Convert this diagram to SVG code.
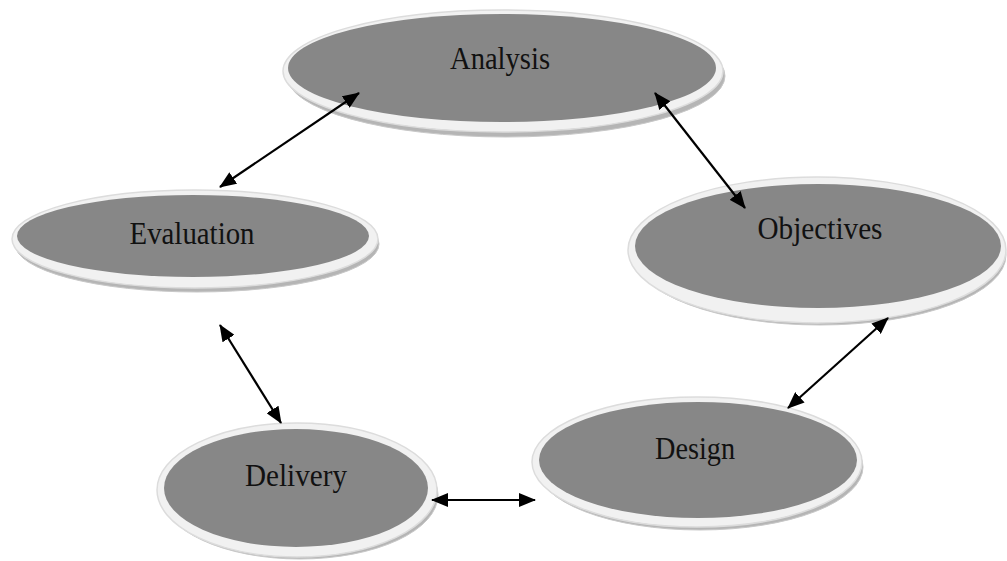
<svg xmlns="http://www.w3.org/2000/svg" width="1007" height="561" viewBox="0 0 1007 561">
<style>
.shadow{fill:#b5b5b5;stroke:#c8c8c8;stroke-width:1}
.ring{fill:#f1f1f1;stroke:#dcdcdc;stroke-width:1.5}
.core{fill:#878787}
.lbl{font-family:"Liberation Serif","Times New Roman",serif;font-size:31px;fill:#111;text-anchor:middle}
.conn{stroke:#000;stroke-width:2.2;fill:none;marker-start:url(#ah);marker-end:url(#ah)}
</style>
<defs>
<marker id="ah" viewBox="0 0 17 14" refX="16" refY="7" markerWidth="17" markerHeight="14" markerUnits="userSpaceOnUse" orient="auto-start-reverse">
<path d="M0,0 L17,7 L0,14 Z" fill="#000"/>
</marker>
</defs>
<rect width="1007" height="561" fill="#fff"/>
<g id="analysis">
<ellipse class="shadow" cx="506" cy="76" rx="219" ry="61"/>
<ellipse class="ring" cx="503" cy="71" rx="220" ry="61"/>
<ellipse class="core" cx="502" cy="68" rx="214" ry="54"/>
<text class="lbl" x="500" y="69" textLength="100" lengthAdjust="spacingAndGlyphs">Analysis</text>
</g>
<g id="evaluation">
<ellipse class="shadow" cx="197" cy="244" rx="182" ry="48"/>
<ellipse class="ring" cx="195" cy="239" rx="183" ry="49"/>
<ellipse class="core" cx="193" cy="236" rx="176" ry="41"/>
<text class="lbl" x="192" y="244" textLength="125" lengthAdjust="spacingAndGlyphs">Evaluation</text>
</g>
<g id="objectives">
<ellipse class="shadow" cx="820" cy="255" rx="186" ry="70"/>
<ellipse class="ring" cx="817" cy="250" rx="189" ry="73"/>
<ellipse class="core" cx="818" cy="246" rx="183" ry="62"/>
<text class="lbl" x="820" y="239" textLength="125" lengthAdjust="spacingAndGlyphs">Objectives</text>
</g>
<g id="design">
<ellipse class="shadow" cx="700" cy="467" rx="163" ry="63"/>
<ellipse class="ring" cx="697" cy="462" rx="165" ry="65"/>
<ellipse class="core" cx="698" cy="460" rx="159" ry="58"/>
<text class="lbl" x="695" y="459" textLength="80" lengthAdjust="spacingAndGlyphs">Design</text>
</g>
<g id="delivery">
<ellipse class="shadow" cx="300" cy="495" rx="138" ry="64"/>
<ellipse class="ring" cx="297" cy="490" rx="140" ry="67"/>
<ellipse class="core" cx="296" cy="488" rx="132" ry="59"/>
<text class="lbl" x="296" y="486" textLength="102" lengthAdjust="spacingAndGlyphs">Delivery</text>
</g>
<g id="connectors">
<line class="conn" x1="220" y1="187" x2="359" y2="93"/>
<line class="conn" x1="655" y1="93" x2="745" y2="208"/>
<line class="conn" x1="220" y1="325" x2="281" y2="423"/>
<line class="conn" x1="888" y1="318" x2="788" y2="408"/>
<line class="conn" x1="432" y1="500" x2="535" y2="500"/>
</g>
</svg>
